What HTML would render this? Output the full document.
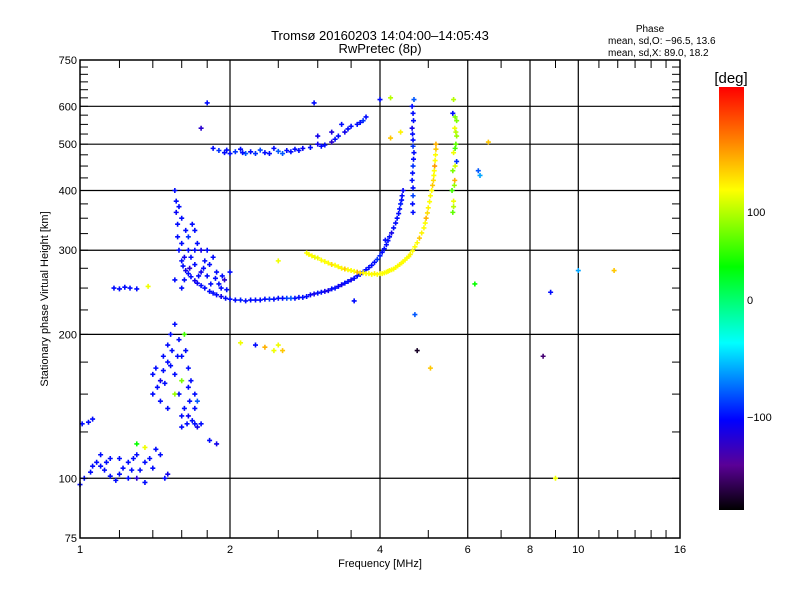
<!DOCTYPE html>
<html><head><meta charset="utf-8"><title>Ionogram</title>
<style>
body{margin:0;background:#fff;}
svg{display:block;font-family:"Liberation Sans","DejaVu Sans",sans-serif;}
</style></head>
<body>
<svg id="chart" width="800" height="600" viewBox="0 0 800 600">
<defs>
<linearGradient id="cb" x1="0" y1="0" x2="0" y2="1">
<stop offset="0" stop-color="#ff0000"/>
<stop offset="0.125" stop-color="#ff8000"/>
<stop offset="0.243" stop-color="#ffff00"/>
<stop offset="0.425" stop-color="#00ff00"/>
<stop offset="0.605" stop-color="#00ffff"/>
<stop offset="0.787" stop-color="#0000ff"/>
<stop offset="0.894" stop-color="#5a0096"/>
<stop offset="1" stop-color="#000000"/>
</linearGradient>
</defs>
<text x="380" y="40" font-size="13" text-anchor="middle">Tromsø 20160203 14:04:00–14:05:43</text>
<text x="380" y="53" font-size="13" text-anchor="middle">RwPretec (8p)</text>
<text x="650" y="32" font-size="10" text-anchor="middle">Phase</text>
<text x="608" y="44" font-size="10">mean, sd,O: −96.5, 13.6</text>
<text x="608" y="56" font-size="10">mean, sd,X:  89.0, 18.2</text>
<g id="grid"></g>
<g id="marks"></g>
<rect x="80" y="60" width="600" height="478" fill="none" stroke="#000" stroke-width="1.5"/>
<g id="axes"></g>
<text x="380" y="567" font-size="11" text-anchor="middle">Frequency [MHz]</text>
<text transform="translate(48,299) rotate(-90)" font-size="11" text-anchor="middle">Stationary phase Virtual Height [km]</text>
<rect x="719" y="87" width="25" height="423" fill="url(#cb)"/>
<text x="731" y="83" font-size="15" text-anchor="middle">[deg]</text>
<g id="cbticks"></g>
</svg>
<script>
// [freq MHz, virtual height km, phase deg]
const oTrace = [[1.58,300,-100],[1.6,285,-100],[1.63,272,-110],[1.67,264,-100],[1.72,256,-105],[1.78,250,-100],[1.85,244,-100],[1.92,240,-110],[2.0,237,-100],[2.1,236,-95],[2.2,236,-100],[2.3,236,-100],[2.4,237,-90],[2.5,238,-100],[2.6,238,-85],[2.7,238,-100],[2.8,239,-100],[2.9,242,-105],[3.0,244,-100],[3.1,246,-110],[3.2,249,-100],[3.3,252,-105],[3.4,256,-100],[3.5,260,-110],[3.6,265,-100],[3.7,270,-95],[3.8,276,-100],[3.9,283,-100],[4.0,292,-95],[4.08,302,-100],[4.15,314,-100],[4.22,326,-110],[4.3,342,-100],[4.36,358,-100],[4.4,375,-95],[4.43,390,-100],[4.45,400,-105],[4.66,360,-100],[4.66,390,-85],[4.64,420,-100],[4.66,450,-90],[4.68,480,-100],[4.66,510,-100],[4.64,540,-110],[4.66,580,-100],[4.68,620,-80],[1.57,320,-100],[1.57,340,-100],[1.56,360,-105],[1.56,380,-100],[1.55,400,-100]];
const oTraceExtra = [[1.61,278,-100],[1.65,268,-100],[1.7,259,-110],[1.75,253,-100],[1.82,246,-100],[1.88,242,-100],[1.96,238,-100],[2.05,236,-100],[2.15,235,-100],[2.25,236,-100],[2.35,237,-100],[2.45,237,-100],[2.55,238,-100],[2.65,238,-80],[2.75,239,-100],[2.85,240,-100],[2.95,243,-110],[3.05,245,-100],[3.15,247,-110],[3.25,250,-100],[3.35,254,-110],[3.45,258,-100],[3.55,262,-100],[3.65,267,-100],[3.75,273,-100],[3.85,279,-100],[3.95,287,-90],[4.04,297,-100],[4.12,308,-100],[4.18,320,-100],[4.26,334,-100],[4.33,350,-100],[4.38,366,-100],[4.42,382,-100],[4.65,375,-100],[4.66,405,-100],[4.65,435,-100],[4.67,465,-100],[4.66,495,-90],[4.65,525,-100],[4.67,560,-100],[4.64,600,-100]];
const xTrace = [[2.85,296,125],[2.92,292,125],[3.0,289,120],[3.1,284,125],[3.2,280,140],[3.3,277,125],[3.4,274,150],[3.5,272,125],[3.6,270,160],[3.7,269,125],[3.8,268,125],[3.9,268,130],[4.0,268,125],[4.08,269,125],[4.15,271,120],[4.22,273,125],[4.3,276,125],[4.38,280,130],[4.45,284,125],[4.53,289,125],[4.6,294,130],[4.7,305,125],[4.8,318,150],[4.9,334,125],[4.95,350,160],[5.0,368,130],[5.05,390,125],[5.1,410,150],[5.13,430,125],[5.15,450,170],[5.17,475,125],[5.18,500,160],[5.6,360,70],[5.62,380,120],[5.58,400,60],[5.65,420,160],[5.6,440,80],[5.7,460,-90],[5.62,480,120],[5.68,500,70],[5.7,520,90],[5.65,540,120],[5.7,560,80],[5.6,580,-100],[5.62,620,100]];
const xTraceExtra = [[2.88,294,125],[2.96,290,120],[3.05,286,125],[3.15,282,125],[3.25,279,125],[3.35,275,130],[3.45,273,125],[3.55,271,125],[3.65,269,140],[3.75,268,125],[3.85,267,125],[3.95,267,125],[4.04,268,125],[4.12,270,125],[4.18,272,125],[4.26,274,125],[4.34,278,125],[4.42,282,125],[4.49,286,125],[4.57,291,125],[4.65,299,125],[4.75,311,125],[4.85,326,130],[4.93,342,125],[4.98,359,140],[5.03,379,125],[5.08,400,125],[5.12,420,140],[5.14,440,125],[5.16,462,125],[5.18,488,150],[5.62,370,100],[5.64,410,90],[5.66,450,110],[5.66,490,60],[5.68,530,100],[5.66,570,80]];
const f2Band = [[1.85,490,-100],[1.9,485,-90],[1.95,480,-100],[2.0,478,-100],[2.05,482,-90],[2.1,488,-100],[2.15,478,-80],[2.2,482,-100],[2.3,486,-85],[2.4,478,-100],[2.45,490,-100],[2.5,483,-80],[2.6,485,-100],[2.7,488,-100],[2.8,490,-105],[2.9,492,-100],[3.0,500,-110],[3.1,498,-100],[3.2,505,-120],[3.3,520,-100],[3.4,530,-110],[3.5,545,-100],[3.6,550,-100],[3.7,560,-90],[3.75,570,-100],[3.0,520,-110],[3.2,530,-115],[3.35,550,-100],[2.25,478,-90],[2.35,480,-100],[2.55,478,-80],[2.65,482,-100],[2.75,485,-100],[1.97,486,-100],[2.12,480,-100],[3.05,495,-100],[3.25,512,-100],[3.45,538,-100],[3.65,555,-100]];
const spreadF = [[1.55,260,-100],[1.6,250,-100],[1.62,290,-110],[1.65,300,-100],[1.7,280,-100],[1.72,310,-100],[1.75,270,-110],[1.8,265,-100],[1.85,290,-100],[1.9,255,-100],[1.95,260,-120],[2.0,270,-100],[1.68,340,-100],[1.6,350,-100],[1.65,320,-90],[1.58,370,-100],[1.7,330,-100],[1.75,300,-110],[1.82,280,-100],[1.88,270,-100],[1.92,250,-100],[1.78,285,-100],[1.66,275,-120],[1.62,260,-100],[1.97,248,-100],[1.63,330,-100],[1.67,290,-100],[1.73,265,-100],[1.77,275,-100],[1.83,255,-100],[1.87,262,-100],[1.93,265,-100],[1.6,310,-100],[1.7,300,-100],[1.8,300,-100]];
const lowCluster = [[1.4,150,-100],[1.42,170,-100],[1.45,160,-110],[1.47,180,-100],[1.5,190,-100],[1.52,200,-100],[1.55,210,-100],[1.5,175,-100],[1.55,165,-100],[1.6,180,-100],[1.62,200,60],[1.65,170,-100],[1.58,150,-100],[1.62,140,-100],[1.65,135,-105],[1.68,132,-100],[1.7,130,-100],[1.72,128,-110],[1.75,130,-100],[1.6,160,80],[1.65,155,-100],[1.7,150,-100],[1.72,145,-80],[1.45,145,-100],[1.5,140,-100],[1.55,150,90],[1.4,165,-100],[1.48,158,-100],[1.53,185,-100],[1.58,195,-100],[1.67,160,-100],[1.7,140,-100],[1.6,128,-100],[1.82,120,-100],[1.88,118,-110],[1.43,155,-100],[1.47,168,-100],[1.52,172,-100],[1.57,180,-100],[1.63,185,-100],[1.66,145,-100],[1.6,135,-100],[1.64,130,-100]];
const eLayer = [[1.0,97,-100],[1.02,100,-100],[1.05,103,-100],[1.08,108,-100],[1.1,106,-100],[1.12,104,-100],[1.15,101,-100],[1.18,99,-100],[1.2,102,-100],[1.22,105,-100],[1.25,108,-100],[1.28,110,-100],[1.3,112,-100],[1.32,104,-100],[1.35,108,-100],[1.38,110,-100],[1.4,105,-100],[1.42,115,-100],[1.45,112,-100],[1.48,100,-100],[1.5,102,-110],[1.35,98,-100],[1.25,100,-100],[1.1,112,-100],[1.15,110,-100],[1.3,100,-120],[1.3,118,40],[1.35,116,120],[1.01,130,-100],[1.04,131,-100],[1.06,133,-100],[1.17,250,-100],[1.2,249,-100],[1.23,251,-100],[1.26,250,-100],[1.3,249,-100],[1.37,252,120],[1.06,106,-100],[1.13,108,-100],[1.2,110,-100],[1.27,104,-100]];
const scatter = [[1.8,610,-100],[1.75,540,-120],[2.1,192,120],[2.25,190,-100],[2.35,188,160],[2.45,185,120],[2.5,190,120],[2.55,185,150],[2.5,285,120],[4.7,220,-80],[4.75,185,-170],[5.05,170,150],[6.2,255,40],[6.35,430,-60],[6.6,505,150],[6.3,440,-80],[8.5,180,-150],[8.8,245,-100],[9.0,100,120],[10.0,272,-60],[11.8,272,150],[4.1,315,-100],[4.0,620,-100],[2.95,610,-100],[4.4,530,130],[4.2,515,150],[3.55,235,-100],[4.2,625,100]];

const X = f => 80 + 150 * Math.log2(f);
const Y = h => 538 - 478 * Math.log10(h / 75);
const NS = 'http://www.w3.org/2000/svg';
function mk(tag, attrs, parent){const e=document.createElementNS(NS,tag);for(const k in attrs)e.setAttribute(k,attrs[k]);parent.appendChild(e);return e;}

function phaseY(p){ if(p>=0) return 300 - p*0.88; return 300 + p*(-1.17); }
const cStops=[[87,[255,0,0]],[140,[255,128,0]],[190,[255,255,0]],[267,[0,255,0]],[343,[0,255,255]],[420,[0,0,255]],[465,[90,0,150]],[510,[0,0,0]]];
function color(p){
  let y=Math.max(87,Math.min(510,phaseY(p)));
  for(let i=0;i<cStops.length-1;i++){const a=cStops[i],b=cStops[i+1];
    if(y>=a[0]&&y<=b[0]){const t=(y-a[0])/(b[0]-a[0]);
      const c=a[1].map((v,j)=>Math.round(v+(b[1][j]-v)*t));return 'rgb('+c.join(',')+')';}}
  return '#000';
}

const grid=document.getElementById('grid');
[2,4,6,8,10].forEach(f=>{
  const l=mk('line',{x1:X(f),x2:X(f),y1:60,y2:538,stroke:'#000','stroke-width':1.2},grid);
  
  
});
[100,200,300,400,500,600].forEach(h=>{
  const l=mk('line',{x1:80,x2:680,y1:Y(h),y2:Y(h),stroke:'#000','stroke-width':1.2},grid);
  
  
});

const axes=document.getElementById('axes');
for(let h=75;h<=750;h+=25){
  const y=Y(h);
  const t1=mk('line',{x1:80,x2:88,y1:y,y2:y,stroke:'#000'},axes);
  
  
  const t2=mk('line',{x1:672,x2:680,y1:y,y2:y,stroke:'#000'},axes);
  
  
}
const yLabels=[75,100,200,300,400,500,600,750];
yLabels.forEach(h=>{
  const t=mk('text',{x:77,y:Y(h)+4,'font-size':11,'text-anchor':'end'},axes);
  t.textContent=h;
  
  
});
const xMinor=[1.2,1.4,1.6,1.8,2.5,3,3.5,5,7,9,11,12,13,14,15];
xMinor.forEach(f=>{
  const a=mk('line',{x1:X(f),x2:X(f),y1:538,y2:530,stroke:'#000'},axes);
  
  
  const b=mk('line',{x1:X(f),x2:X(f),y1:60,y2:68,stroke:'#000'},axes);
  
  
});
const xLabels=[1,2,4,6,8,10,16];
xLabels.forEach(f=>{
  const t=mk('text',{x:X(f),y:553,'font-size':11,'text-anchor':'middle'},axes);
  t.textContent=f;
  
  
});

const marks=document.getElementById('marks');
const traces=[['o-trace',oTrace],['o-trace',oTraceExtra],['x-trace',xTrace],['x-trace',xTraceExtra],['f2-band',f2Band],['spread-f',spreadF],['low-cluster',lowCluster],['e-layer',eLayer],['scatter',scatter]];
traces.forEach(([name,arr])=>{
  arr.forEach(([f,h,p])=>{
    const x=X(f),y=Y(h);
    const e=mk('path',{d:`M${x-2.5},${y}H${x+2.5}M${x},${y-2.5}V${y+2.5}`,stroke:color(p),'stroke-width':1.6},marks);
    
    
  });
});

const cbt=document.getElementById('cbticks');
const cbLabels=[100,0,-100];
cbLabels.forEach(p=>{
  const t=mk('text',{x:747,y:phaseY(p)+4,'font-size':11},cbt);
  t.textContent=p<0?'−'+(-p):String(p);
  
  
});
</script>
</body></html>
